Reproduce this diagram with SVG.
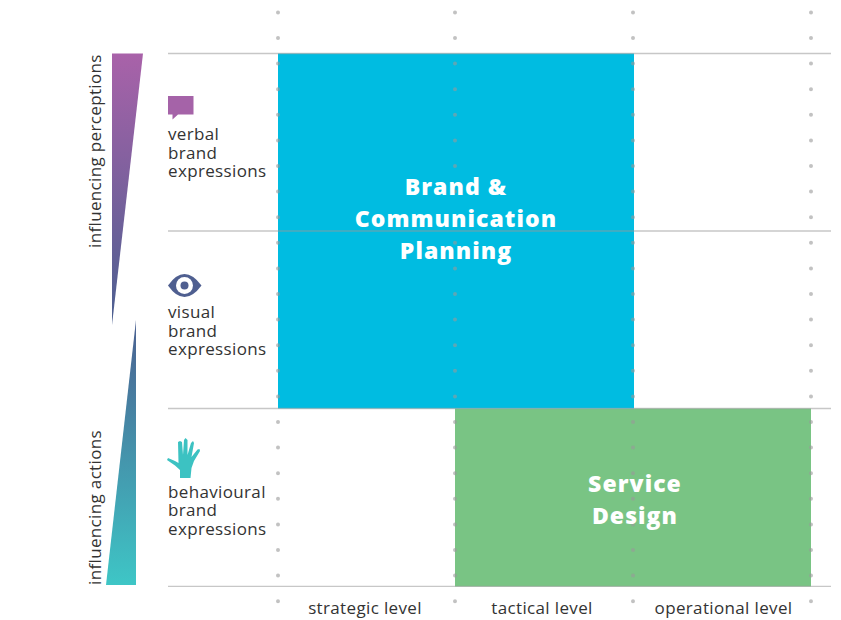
<svg xmlns="http://www.w3.org/2000/svg" width="841" height="620" viewBox="0 0 841 620">
<style>
.lab{font-family:"Open Sans","Noto Sans",sans-serif;font-size:17px;letter-spacing:.35px;fill:#333}
.big{font-family:"Open Sans","Noto Sans",sans-serif;font-size:23px;font-weight:800;fill:#fff;text-anchor:middle;letter-spacing:1.05px}
.hl{stroke:#999;stroke-opacity:.55;stroke-width:1.3;fill:none}
.dots{stroke:#999;stroke-opacity:.6;stroke-width:4;stroke-linecap:round;stroke-dasharray:0 25.6;fill:none}
</style>
<defs>
<linearGradient id="g1" x1="0" y1="0" x2="0" y2="1"><stop offset="0" stop-color="#a962a9"/><stop offset="1" stop-color="#4b5f90"/></linearGradient>
<linearGradient id="g2" x1="0" y1="0" x2="0" y2="1"><stop offset="0" stop-color="#4b5f90"/><stop offset="1" stop-color="#3ec6c6"/></linearGradient>
</defs>
<rect width="841" height="620" fill="#fff"/>
<g id="service-design"><rect x="455" y="408.5" width="356" height="178" fill="#79c484"/></g>
<g id="brand-planning"><rect x="278" y="53.5" width="356" height="355" fill="#00bce1"/></g>
<g id="connectors">
<path class="hl" d="M168 53.500H831M168 231H831M168 408.500H831M168 586.300H831"/>
<path class="dots" d="M278 12.400V605M455 12.400V605M633 12.400V605M811 12.400V605"/>
</g>
<g id="brand-label"><text class="big" x="456" y="195">Brand &amp;</text><text class="big" x="456" y="227">Communication</text><text class="big" x="456" y="259">Planning</text></g>
<g id="service-label"><text class="big" x="635" y="492">Service</text><text class="big" x="635" y="524">Design</text></g>
<g id="perceptions">
<polygon points="112,53.5 143,53.5 112,325" fill="url(#g1)"/>
<text class="lab" transform="translate(101,248) rotate(-90)">influencing perceptions</text>
</g>
<g id="actions">
<polygon points="136,320 136,585 106,585" fill="url(#g2)"/>
<text class="lab" transform="translate(101,585) rotate(-90)">influencing actions</text>
</g>
<g id="verbal">
<path d="M168 96H193.500V114.500H178L172.500 119.500V114.500H168Z" fill="#a563a8"/>
<text class="lab" x="168" y="140">verbal</text><text class="lab" x="168" y="158.500">brand</text><text class="lab" x="168" y="177">expressions</text>
</g>
<g id="visual">
<path d="M168 285.500Q176 274 184.500 274T201.500 285.500Q193 297 184.500 297T168 285.500Z" fill="#4f5f90"/>
<circle cx="184.500" cy="285.500" r="8.500" fill="#fff"/><circle cx="184.500" cy="285.500" r="4" fill="#4f5f90"/>
<text class="lab" x="168" y="318">visual</text><text class="lab" x="168" y="336.500">brand</text><text class="lab" x="168" y="355">expressions</text>
</g>
<g id="behavioural">
<path d="M180 478V470L175 465.500L167 460L168 458L175 461L178.500 463L178 442L180 441L182 442L183 455L184 440L185.500 438L187.500 440L187.500 455L191 443L193 441L194 443L191.500 457L197.500 449.500L199.500 449L200 451L194 461L191.500 468L190.500 478Z" fill="#3cc2c2"/>
<text class="lab" x="168" y="498">behavioural</text><text class="lab" x="168" y="516">brand</text><text class="lab" x="168" y="535">expressions</text>
</g>
<g id="axis">
<text class="lab" x="365" y="614" text-anchor="middle">strategic level</text>
<text class="lab" x="542" y="614" text-anchor="middle">tactical level</text>
<text class="lab" x="723.500" y="614" text-anchor="middle">operational level</text>
</g>
</svg>
